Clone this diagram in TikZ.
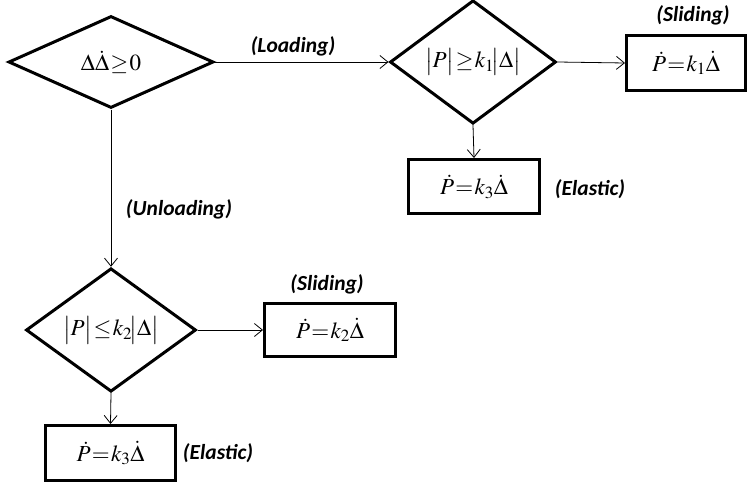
\documentclass[tikz,border=0pt]{standalone}
\usepackage{mathptmx}
\usepackage{fontspec}
\newfontfamily\labelfont{Carlito}
\usetikzlibrary{shapes.geometric,arrows.meta}

\tikzset{
  decision/.style={diamond, draw, line width=3pt, inner sep=0pt, minimum width=#1},
  outcome/.style={rectangle, draw, line width=3pt, inner sep=0pt},
  flow/.style={draw, line width=0.8pt, -{Straight Barb[length=8pt,width=13pt,line width=0.8pt]}},
  tag/.style={font=\labelfont\bfseries\itshape\fontsize{21.5}{24}\selectfont, inner sep=0pt},
  eq/.style={font=\fontsize{23}{26}\selectfont}
}
\newcommand\mrel[1]{\mathrel{\mkern-3mu#1\mkern-3mu}}
\newcommand\absv[1]{\bigl|#1\bigr|}

\begin{document}
\begin{tikzpicture}[x=1pt,y=-1pt]
  \useasboundingbox (0,0) rectangle (751,484);

  % decisions
  \node[decision=205pt, minimum height=92pt, eq] (d1) at (111,62) {$\Delta\dot{\Delta}\mrel{\geq}0$};
  \node[decision=166pt, minimum height=73pt, eq] (d2) at (473,62) {$\absv{P}\mrel{\geq}k_1\!\absv{\Delta}$};
  \node[decision=170pt, minimum height=73pt, eq] (d3) at (111,330) {$\absv{P}\mrel{\leq}k_2\!\absv{\Delta}$};

  % outcomes
  \node[outcome, minimum width=119pt, minimum height=55pt, eq] (b1) at (686,63) {$\dot{P}\mrel{=}k_1\dot{\Delta}$};
  \node[outcome, minimum width=131pt, minimum height=54pt, eq] (b2) at (474,186.5) {$\dot{P}\mrel{=}k_3\dot{\Delta}$};
  \node[outcome, minimum width=131pt, minimum height=53pt, eq] (b3) at (330,330) {$\dot{P}\mrel{=}k_2\dot{\Delta}$};
  \node[outcome, minimum width=130pt, minimum height=55pt, eq] (b4) at (110.5,453) {$\dot{P}\mrel{=}k_3\dot{\Delta}$};

  % connectors
  \draw[flow] (d1.east) -- (d2.west);
  \draw[flow] (d2.east) -- (b1.west);
  \draw[flow] (d2.south) -- (b2.north);
  \draw[flow] (d1.south) -- (d3.north);
  \draw[flow] (d3.east) -- (b3.west);
  \draw[flow] (d3.south) -- (b4.north);

  % labels
  \node[tag] (lload) at (293,46) {(Loading)};
  \node[tag] (lunload) at (179,209) {(Unloading)};
  \node[tag] (lslide1) at (693,15) {(Sliding)};
  \node[tag] (lelast1) at (590,189) {(Elastic)};
  \node[tag] (lslide2) at (327,284) {(Sliding)};
  \node[tag] (lelast2) at (218,453) {(Elastic)};
\end{tikzpicture}
\end{document}
